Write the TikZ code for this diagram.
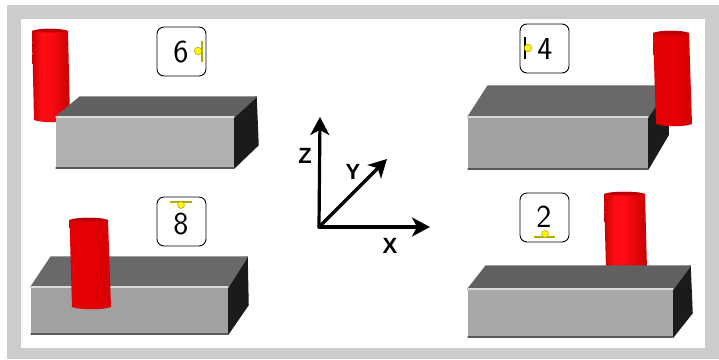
\documentclass[tikz,border=0pt]{standalone}
\usepackage{fontspec}
\newfontfamily\axisfont{Liberation Sans}
\usetikzlibrary{arrows.meta}
\pgfdeclarehorizontalshading{cylred}{100bp}{
  rgb(0bp)=(0.60,0,0);
  rgb(25bp)=(0.80,0,0.02);
  rgb(38bp)=(1,0.05,0.08);
  rgb(50bp)=(0.98,0.04,0.07);
  rgb(75bp)=(0.78,0,0.01);
  rgb(100bp)=(0.55,0,0)}
\pgfdeclarehorizontalshading{cyldull}{100bp}{
  rgb(0bp)=(0.72,0,0);
  rgb(30bp)=(0.88,0,0.02);
  rgb(50bp)=(0.90,0,0.02);
  rgb(78bp)=(0.82,0,0.01);
  rgb(100bp)=(0.62,0,0)}
\definecolor{capred}{RGB}{186,0,6}
\definecolor{markyellow}{RGB}{255,246,0}
\definecolor{sideblack}{RGB}{26,28,26}
\tikzset{
  x=1pt,y=-1pt,
  labelbox/.style={draw=black,fill=white,rounded corners=7pt,line width=.9pt,minimum width=49pt,minimum height=49pt,inner sep=0pt},
  digit/.style={font=\sffamily\fontsize{32}{32}\selectfont,inner sep=0pt,text=black},
  axisline/.style={line width=3.2pt,line cap=round,-{Stealth[length=18pt,width=19pt,inset=5pt]}},
  axislabel/.style={font=\axisfont\bfseries\fontsize{22}{22}\selectfont,inner sep=0pt},
  markdot/.style={fill=markyellow,draw=markyellow!60!black,line width=.4pt},
}
% #1 front-top-left x, #2 front-top y, #3 front-right x, #4 front-bottom y,
% #5 back-left x, #6 back y, #7 back-right x, #8 right-face lower x, #9 right-face lower y
\newcommand{\slabfront}{black!33}
\newcommand{\slabtop}{black!60}
\newcommand{\slab}[9]{%
  \filldraw[fill=sideblack,draw=sideblack,line width=1.5pt,line join=round] (#3,#2) -- (#7,#6) -- (#8,#9) -- (#3,#4) -- cycle;
  \filldraw[fill=\slabtop,draw=\slabtop,line width=1.5pt,line join=round] (#1,#2) -- (#5,#6) -- (#7,#6) -- (#3,#2) -- cycle;
  \fill[fill=\slabfront] (#1,#2) rectangle (#3,#4);
  \draw[black!14,line width=1.2pt,line cap=round] (#1,#2) -- (#3,#2);
  \draw[black!65,line width=1.2pt,line cap=round] (#1,#4) -- (#3,#4);
}
% #1 shading, #2,#3 top x-range, #4 top y, #5,#6 bottom x-range, #7 bottom y
\newcommand{\cylinder}[7]{%
  \shade[shading=#1] (#2,#4) -- (#5,#7)
    .. controls (#5+8,#7+3) and (#6-8,#7+3) .. (#6,#7)
    -- (#3,#4) .. controls (#3-8,#4-3) and (#2+8,#4-3) .. (#2,#4) -- cycle;
  \fill[capred] (#2,#4) .. controls (#2+8,#4+2) and (#3-8,#4+2) .. (#3,#4)
    .. controls (#3-8,#4-3) and (#2+8,#4-3) .. (#2,#4) -- cycle;
}
\begin{document}
\begin{tikzpicture}
\useasboundingbox (0,0) rectangle (719,359);
\fill[white] (0,0) rectangle (719,359);
\fill[black!20] (7,5) rectangle (719,359);
\fill[white] (21,19) rectangle (705,348);

% top left
\cylinder{cylred}{32}{68}{31}{34}{70}{120}
\renewcommand{\slabfront}{black!31}
\renewcommand{\slabtop}{black!62}
\slab{56}{117}{234}{168}{80}{97}{256}{258}{145}
% bottom left
\renewcommand{\slabfront}{black!37}
\renewcommand{\slabtop}{black!59}
\slab{31}{287}{228}{334}{51}{257}{247}{248}{305}
\cylinder{cyldull}{69.5}{108}{220}{72}{111}{307}
% top right
\slab{468}{117}{648}{169}{488}{86}{668}{668}{135}
\cylinder{cyldull}{653}{689}{33}{656}{692}{124}
% bottom right
\cylinder{cylred}{604}{645}{194}{606}{647}{270}
\renewcommand{\slabfront}{black!34}
\renewcommand{\slabtop}{black!62}
\slab{468}{289}{673}{337}{486}{266}{690}{692}{313}

% label boxes
\node[labelbox] (boxsix) at (181.5,51.5) {};
\node[labelbox] (boxeight) at (181.5,221.5) {};
\node[labelbox] (boxfour) at (544.5,48.5) {};
\node[labelbox] (boxtwo) at (544.5,217.5) {};
\node[digit] (six) at (181,52) {6};
\node[digit] (eight) at (181,224) {8};
\node[digit] (four) at (545,49) {4};
\node[digit] (two) at (544,217) {2};

% markers
\draw[markyellow!70!black,line width=1.6pt] (202,41) -- (202,62);
\fill[markdot] (198,51) circle (3.8);
\draw[markyellow!70!black,line width=1.6pt] (170,202) -- (192,202);
\fill[markdot] (181,205) circle (3.5);
\draw[black,line width=1.6pt] (525,37) -- (525,59);
\fill[markdot] (528,48) circle (3.8);
\draw[markyellow!70!black,line width=1.6pt] (534,237) -- (555,237);
\fill[markdot] (545,234) circle (3.5);

% axes
\coordinate (origin) at (319,227);
\coordinate (ztip) at (320,117);
\coordinate (xtip) at (430,227);
\coordinate (ytip) at (387,159);
\draw[axisline] (origin) -- (ztip);
\draw[axisline] (origin) -- (xtip);
\draw[axisline] (origin) -- (ytip);
\node[axislabel] (zlabel) at (305,156) {Z};
\node[axislabel] (ylabel) at (353,172) {Y};
\node[axislabel] (xlabel) at (390,246) {X};
\end{tikzpicture}
\end{document}
